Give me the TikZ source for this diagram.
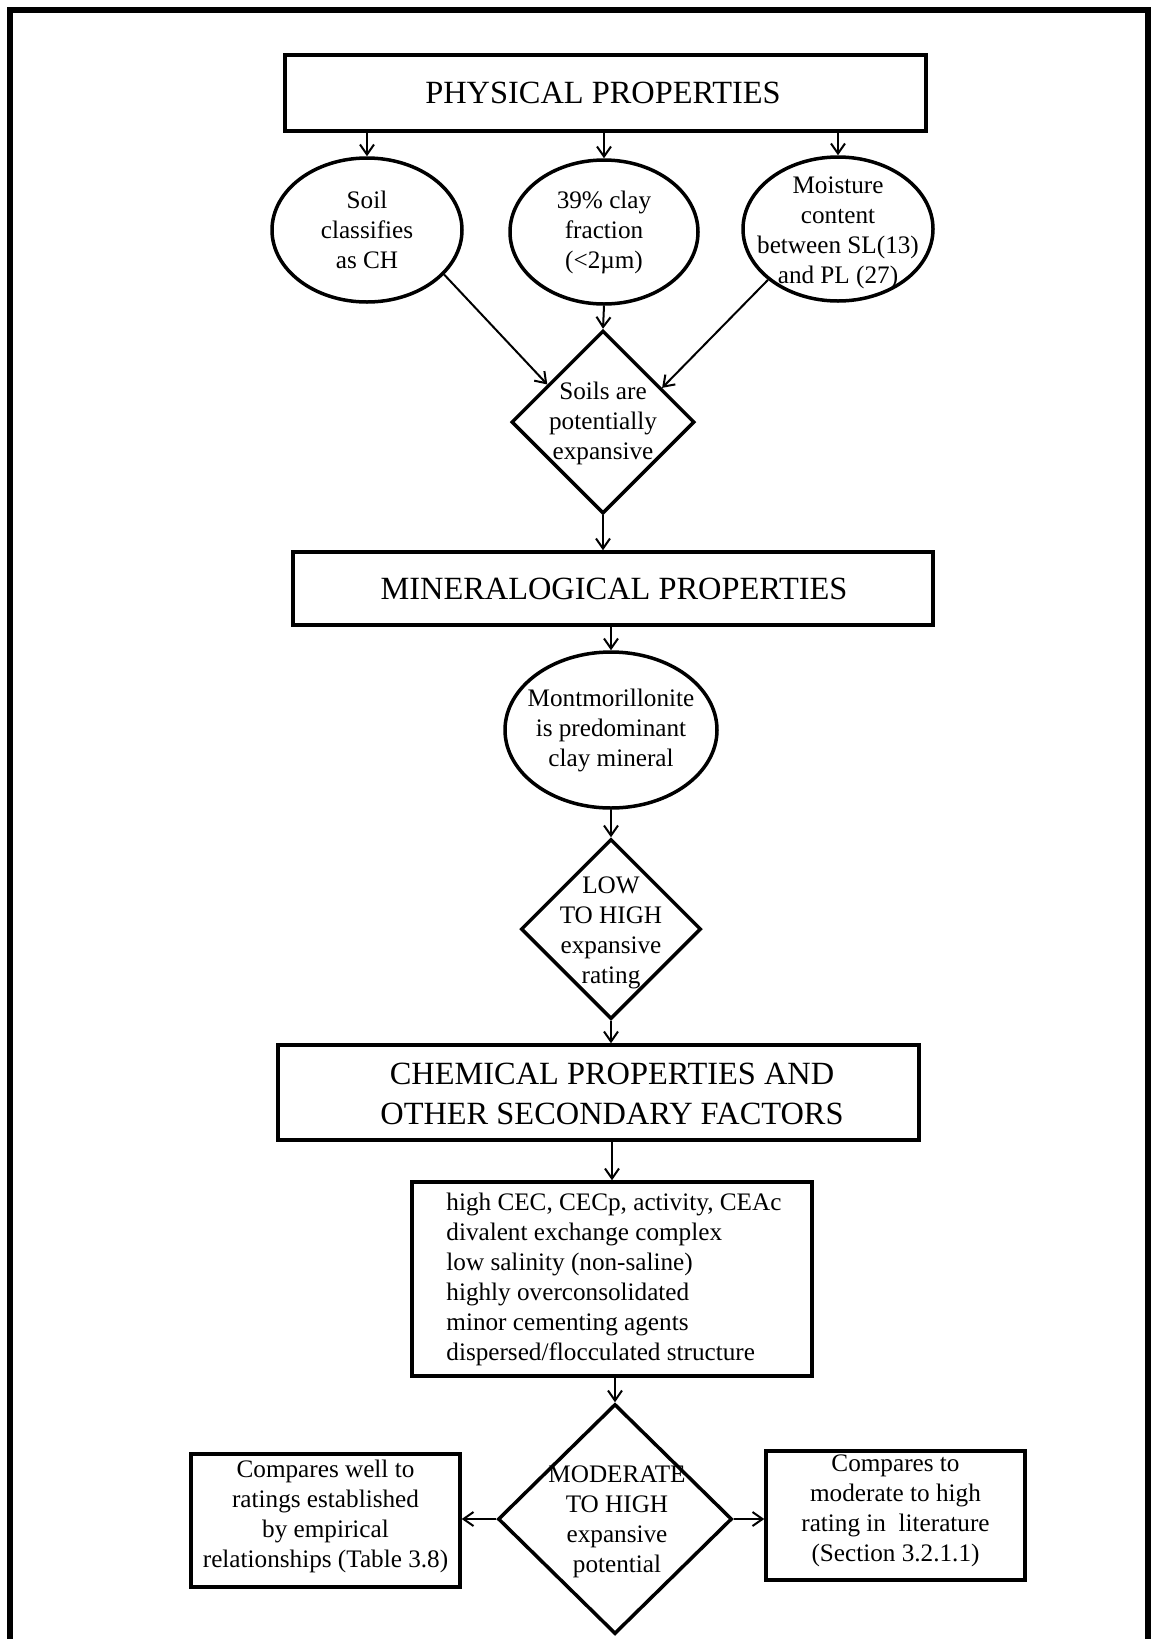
\documentclass[tikz,border=0pt]{standalone}
\usepackage{fontspec}
\setmainfont{Liberation Serif}
\usetikzlibrary{shapes.geometric,arrows.meta}

\newcommand{\flowbody}{\fontsize{12.6}{15}\selectfont}
\newcommand{\flowtitle}{\fontsize{16.2}{20}\selectfont}

\begin{document}
\begin{tikzpicture}[x=0.5pt,y=-0.5pt,
  box/.style={draw, line width=1.75pt, rectangle, inner sep=0pt},
  oval/.style={draw, line width=1.75pt, ellipse, inner sep=0pt},
  choice/.style={draw, line width=1.75pt, diamond, inner sep=0pt},
  txt/.style={align=center, inner sep=0pt, font=\flowbody},
  head/.style={align=center, inner sep=0pt, font=\flowtitle},
  arr/.style={line width=1pt, -{Straight Barb[length=5pt,width=7pt,line width=1pt]}}
]
\useasboundingbox (0,0) rectangle (1153,1639);

% outer frame (open at the bottom edge)
\draw[line width=3pt] (10,1645) -- (10,10) -- (1148,10) -- (1148,1645);

% physical properties
\node[box, minimum width=320.5pt, minimum height=38pt] (phys) at (605.5,93) {};
\node[head] (physT) at (603,93) {PHYSICAL PROPERTIES};

\node[oval, minimum width=95pt, minimum height=72pt] (e1) at (367,230) {};
\node[txt] (e1t) at (e1) {Soil\\classifies\\as CH};
\node[oval, minimum width=94pt, minimum height=72pt] (e2) at (604,232) {};
\node[txt] (e2t) at (e2) {39\% clay\\fraction\\(<2µm)};
\node[oval, minimum width=95pt, minimum height=72pt] (e3) at (838,229) {};
\node[txt] (e3t) at (838,233) {Moisture\\content\\between SL(13)\\and PL (27)};

\node[choice, minimum width=91.5pt, minimum height=91.5pt] (d1) at (603,422) {};
\node[txt] (d1t) at (603,423) {Soils are\\potentially\\expansive};

% mineralogical properties
\node[box, minimum width=320pt, minimum height=36.5pt] (mine) at (613,588.5) {};
\node[head] (mineT) at (614,588.5) {MINERALOGICAL PROPERTIES};

\node[oval, minimum width=106pt, minimum height=78pt] (e4) at (611,730) {};
\node[txt] (e4t) at (e4) {Montmorillonite\\is predominant\\clay mineral};

\node[choice, minimum width=90pt, minimum height=90pt] (d2) at (611,929) {};
\node[txt] (d2t) at (611,933) {LOW\\TO HIGH\\expansive\\rating};

% chemical properties and secondary factors
\node[box, minimum width=320.5pt, minimum height=47.5pt] (chem) at (598.5,1092.5) {};
\node[head] (chemT) at (612,1094) {CHEMICAL PROPERTIES AND\\OTHER SECONDARY FACTORS};

\node[box, minimum width=200pt, minimum height=97pt] (list) at (612,1279) {};
\node[txt, align=left, anchor=west] (listT) at (446,1279) {high CEC, CECp, activity, CEAc\\divalent exchange complex\\low salinity (non-saline)\\highly overconsolidated\\minor cementing agents\\dispersed/flocculated structure};

\node[choice, minimum width=117pt, minimum height=115pt] (d3) at (615,1519) {};
\node[txt] (d3t) at (617,1522) {MODERATE\\TO HIGH\\expansive\\potential};

\node[box, minimum width=134.5pt, minimum height=66.5pt] (left) at (325.5,1520.5) {};
\node[txt] (leftT) at (325.5,1516) {Compares well to\\ratings established\\by empirical\\relationships (Table 3.8)};

\node[box, minimum width=129.5pt, minimum height=64.5pt] (right) at (895.5,1515.5) {};
\node[txt] (rightT) at (895.5,1511) {Compares to\\moderate to high\\rating in\ \ literature\\(Section 3.2.1.1)};

% connectors
\draw[arr] (e1.north |- phys.south) -- (e1.north);
\draw[arr] (e2.north |- phys.south) -- (e2.north);
\draw[arr] (e3.north |- phys.south) -- (e3.north);
\draw[arr] (e2.south) -- (d1.north);
\draw[arr] (e1.-30) -- (d1.146);
\draw[arr] (e3.216) -- (d1.30);
\draw[arr] (d1.south) -- (d1.south |- mine.north);
\draw[arr] (e4.north |- mine.south) -- (e4.north);
\draw[arr] (e4.south) -- (d2.north);
\draw[arr] (d2.south) -- (d2.south |- chem.north);
\draw[arr] (list.north |- chem.south) -- (list.north);
\draw[arr] (d3.north |- list.south) -- (d3.north);
\draw[arr] (d3.west) -- (d3.west -| left.east);
\draw[arr] (d3.east) -- (d3.east -| right.west);
\end{tikzpicture}
\end{document}
